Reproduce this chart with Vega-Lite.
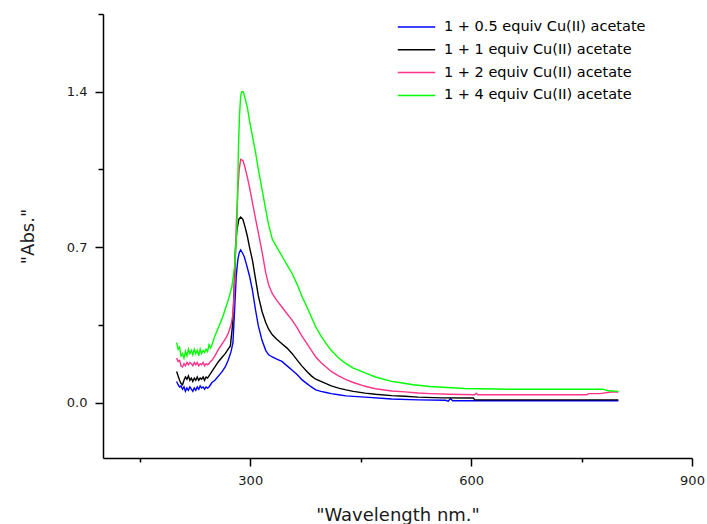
{
  "$schema": "https://vega.github.io/schema/vega-lite/v6.json",
  "autosize": {"type": "none"},
  "padding": {"left": 103, "top": 14, "right": 15, "bottom": 66},
  "width": 589,
  "height": 444,
  "config": {
    "view": {"stroke": null},
    "font": "DejaVu Sans",
    "axis": {
      "grid": false,
      "domainColor": "#000000",
      "domainWidth": 1.5,
      "tickColor": "#000000",
      "tickWidth": 1.5,
      "labelFont": "DejaVu Sans",
      "labelFontSize": 13,
      "labelColor": "#1a1a1a",
      "labelFlush": false,
      "labelOverlap": false,
      "titleFont": "DejaVu Sans",
      "titleFontSize": 18,
      "titleFontWeight": "normal",
      "titleColor": "#1a1a1a"
    }
  },
  "data": {
    "values": [
      {"s": "1 + 0.5 equiv Cu(II) acetate", "x": 200, "y": 0.095},
      {"s": "1 + 0.5 equiv Cu(II) acetate", "x": 202, "y": 0.08},
      {"s": "1 + 0.5 equiv Cu(II) acetate", "x": 204, "y": 0.07},
      {"s": "1 + 0.5 equiv Cu(II) acetate", "x": 206, "y": 0.075},
      {"s": "1 + 0.5 equiv Cu(II) acetate", "x": 208, "y": 0.06},
      {"s": "1 + 0.5 equiv Cu(II) acetate", "x": 210, "y": 0.07},
      {"s": "1 + 0.5 equiv Cu(II) acetate", "x": 212, "y": 0.05},
      {"s": "1 + 0.5 equiv Cu(II) acetate", "x": 214, "y": 0.065},
      {"s": "1 + 0.5 equiv Cu(II) acetate", "x": 216, "y": 0.055},
      {"s": "1 + 0.5 equiv Cu(II) acetate", "x": 218, "y": 0.07},
      {"s": "1 + 0.5 equiv Cu(II) acetate", "x": 220, "y": 0.06},
      {"s": "1 + 0.5 equiv Cu(II) acetate", "x": 222, "y": 0.05},
      {"s": "1 + 0.5 equiv Cu(II) acetate", "x": 224, "y": 0.065},
      {"s": "1 + 0.5 equiv Cu(II) acetate", "x": 226, "y": 0.055},
      {"s": "1 + 0.5 equiv Cu(II) acetate", "x": 228, "y": 0.07},
      {"s": "1 + 0.5 equiv Cu(II) acetate", "x": 230, "y": 0.06},
      {"s": "1 + 0.5 equiv Cu(II) acetate", "x": 232, "y": 0.075},
      {"s": "1 + 0.5 equiv Cu(II) acetate", "x": 234, "y": 0.065},
      {"s": "1 + 0.5 equiv Cu(II) acetate", "x": 236, "y": 0.07},
      {"s": "1 + 0.5 equiv Cu(II) acetate", "x": 238, "y": 0.06},
      {"s": "1 + 0.5 equiv Cu(II) acetate", "x": 240, "y": 0.07},
      {"s": "1 + 0.5 equiv Cu(II) acetate", "x": 242, "y": 0.065},
      {"s": "1 + 0.5 equiv Cu(II) acetate", "x": 244, "y": 0.07},
      {"s": "1 + 0.5 equiv Cu(II) acetate", "x": 246, "y": 0.08},
      {"s": "1 + 0.5 equiv Cu(II) acetate", "x": 248, "y": 0.09},
      {"s": "1 + 0.5 equiv Cu(II) acetate", "x": 252, "y": 0.10},
      {"s": "1 + 0.5 equiv Cu(II) acetate", "x": 257, "y": 0.12},
      {"s": "1 + 0.5 equiv Cu(II) acetate", "x": 262, "y": 0.14},
      {"s": "1 + 0.5 equiv Cu(II) acetate", "x": 266, "y": 0.16},
      {"s": "1 + 0.5 equiv Cu(II) acetate", "x": 270, "y": 0.19},
      {"s": "1 + 0.5 equiv Cu(II) acetate", "x": 274, "y": 0.23},
      {"s": "1 + 0.5 equiv Cu(II) acetate", "x": 276.5, "y": 0.27},
      {"s": "1 + 0.5 equiv Cu(II) acetate", "x": 278.5, "y": 0.40},
      {"s": "1 + 0.5 equiv Cu(II) acetate", "x": 281, "y": 0.57},
      {"s": "1 + 0.5 equiv Cu(II) acetate", "x": 283, "y": 0.64},
      {"s": "1 + 0.5 equiv Cu(II) acetate", "x": 285, "y": 0.675},
      {"s": "1 + 0.5 equiv Cu(II) acetate", "x": 287, "y": 0.687},
      {"s": "1 + 0.5 equiv Cu(II) acetate", "x": 290, "y": 0.67},
      {"s": "1 + 0.5 equiv Cu(II) acetate", "x": 292, "y": 0.655},
      {"s": "1 + 0.5 equiv Cu(II) acetate", "x": 295, "y": 0.62},
      {"s": "1 + 0.5 equiv Cu(II) acetate", "x": 299, "y": 0.57},
      {"s": "1 + 0.5 equiv Cu(II) acetate", "x": 303, "y": 0.505},
      {"s": "1 + 0.5 equiv Cu(II) acetate", "x": 307, "y": 0.42},
      {"s": "1 + 0.5 equiv Cu(II) acetate", "x": 311, "y": 0.345},
      {"s": "1 + 0.5 equiv Cu(II) acetate", "x": 316, "y": 0.28},
      {"s": "1 + 0.5 equiv Cu(II) acetate", "x": 321, "y": 0.235},
      {"s": "1 + 0.5 equiv Cu(II) acetate", "x": 325, "y": 0.215},
      {"s": "1 + 0.5 equiv Cu(II) acetate", "x": 330, "y": 0.205},
      {"s": "1 + 0.5 equiv Cu(II) acetate", "x": 336, "y": 0.195},
      {"s": "1 + 0.5 equiv Cu(II) acetate", "x": 343, "y": 0.185},
      {"s": "1 + 0.5 equiv Cu(II) acetate", "x": 350, "y": 0.165},
      {"s": "1 + 0.5 equiv Cu(II) acetate", "x": 357, "y": 0.145},
      {"s": "1 + 0.5 equiv Cu(II) acetate", "x": 364, "y": 0.125},
      {"s": "1 + 0.5 equiv Cu(II) acetate", "x": 370, "y": 0.103},
      {"s": "1 + 0.5 equiv Cu(II) acetate", "x": 377, "y": 0.085},
      {"s": "1 + 0.5 equiv Cu(II) acetate", "x": 383, "y": 0.07},
      {"s": "1 + 0.5 equiv Cu(II) acetate", "x": 389, "y": 0.057},
      {"s": "1 + 0.5 equiv Cu(II) acetate", "x": 396, "y": 0.05},
      {"s": "1 + 0.5 equiv Cu(II) acetate", "x": 403, "y": 0.045},
      {"s": "1 + 0.5 equiv Cu(II) acetate", "x": 410, "y": 0.04},
      {"s": "1 + 0.5 equiv Cu(II) acetate", "x": 420, "y": 0.035},
      {"s": "1 + 0.5 equiv Cu(II) acetate", "x": 430, "y": 0.03},
      {"s": "1 + 0.5 equiv Cu(II) acetate", "x": 456, "y": 0.024},
      {"s": "1 + 0.5 equiv Cu(II) acetate", "x": 492, "y": 0.016},
      {"s": "1 + 0.5 equiv Cu(II) acetate", "x": 528, "y": 0.012},
      {"s": "1 + 0.5 equiv Cu(II) acetate", "x": 565, "y": 0.01},
      {"s": "1 + 0.5 equiv Cu(II) acetate", "x": 569, "y": 0.006},
      {"s": "1 + 0.5 equiv Cu(II) acetate", "x": 572, "y": 0.018},
      {"s": "1 + 0.5 equiv Cu(II) acetate", "x": 575, "y": 0.008},
      {"s": "1 + 0.5 equiv Cu(II) acetate", "x": 650, "y": 0.008},
      {"s": "1 + 0.5 equiv Cu(II) acetate", "x": 700, "y": 0.008},
      {"s": "1 + 0.5 equiv Cu(II) acetate", "x": 800, "y": 0.008},

      {"s": "1 + 1 equiv Cu(II) acetate", "x": 200, "y": 0.14},
      {"s": "1 + 1 equiv Cu(II) acetate", "x": 202, "y": 0.12},
      {"s": "1 + 1 equiv Cu(II) acetate", "x": 204, "y": 0.10},
      {"s": "1 + 1 equiv Cu(II) acetate", "x": 206, "y": 0.085},
      {"s": "1 + 1 equiv Cu(II) acetate", "x": 208, "y": 0.08},
      {"s": "1 + 1 equiv Cu(II) acetate", "x": 210, "y": 0.10},
      {"s": "1 + 1 equiv Cu(II) acetate", "x": 212, "y": 0.115},
      {"s": "1 + 1 equiv Cu(II) acetate", "x": 214, "y": 0.105},
      {"s": "1 + 1 equiv Cu(II) acetate", "x": 216, "y": 0.12},
      {"s": "1 + 1 equiv Cu(II) acetate", "x": 218, "y": 0.10},
      {"s": "1 + 1 equiv Cu(II) acetate", "x": 220, "y": 0.11},
      {"s": "1 + 1 equiv Cu(II) acetate", "x": 222, "y": 0.095},
      {"s": "1 + 1 equiv Cu(II) acetate", "x": 224, "y": 0.11},
      {"s": "1 + 1 equiv Cu(II) acetate", "x": 226, "y": 0.10},
      {"s": "1 + 1 equiv Cu(II) acetate", "x": 228, "y": 0.115},
      {"s": "1 + 1 equiv Cu(II) acetate", "x": 230, "y": 0.10},
      {"s": "1 + 1 equiv Cu(II) acetate", "x": 232, "y": 0.11},
      {"s": "1 + 1 equiv Cu(II) acetate", "x": 234, "y": 0.105},
      {"s": "1 + 1 equiv Cu(II) acetate", "x": 236, "y": 0.115},
      {"s": "1 + 1 equiv Cu(II) acetate", "x": 238, "y": 0.10},
      {"s": "1 + 1 equiv Cu(II) acetate", "x": 240, "y": 0.115},
      {"s": "1 + 1 equiv Cu(II) acetate", "x": 242, "y": 0.11},
      {"s": "1 + 1 equiv Cu(II) acetate", "x": 244, "y": 0.12},
      {"s": "1 + 1 equiv Cu(II) acetate", "x": 246, "y": 0.13},
      {"s": "1 + 1 equiv Cu(II) acetate", "x": 248, "y": 0.14},
      {"s": "1 + 1 equiv Cu(II) acetate", "x": 252, "y": 0.16},
      {"s": "1 + 1 equiv Cu(II) acetate", "x": 257, "y": 0.185},
      {"s": "1 + 1 equiv Cu(II) acetate", "x": 262, "y": 0.205},
      {"s": "1 + 1 equiv Cu(II) acetate", "x": 266, "y": 0.22},
      {"s": "1 + 1 equiv Cu(II) acetate", "x": 270, "y": 0.24},
      {"s": "1 + 1 equiv Cu(II) acetate", "x": 273, "y": 0.255},
      {"s": "1 + 1 equiv Cu(II) acetate", "x": 276, "y": 0.35},
      {"s": "1 + 1 equiv Cu(II) acetate", "x": 278, "y": 0.50},
      {"s": "1 + 1 equiv Cu(II) acetate", "x": 280, "y": 0.70},
      {"s": "1 + 1 equiv Cu(II) acetate", "x": 282, "y": 0.78},
      {"s": "1 + 1 equiv Cu(II) acetate", "x": 284.5, "y": 0.825},
      {"s": "1 + 1 equiv Cu(II) acetate", "x": 287, "y": 0.835},
      {"s": "1 + 1 equiv Cu(II) acetate", "x": 290, "y": 0.825},
      {"s": "1 + 1 equiv Cu(II) acetate", "x": 293, "y": 0.79},
      {"s": "1 + 1 equiv Cu(II) acetate", "x": 296, "y": 0.75},
      {"s": "1 + 1 equiv Cu(II) acetate", "x": 299, "y": 0.70},
      {"s": "1 + 1 equiv Cu(II) acetate", "x": 303, "y": 0.64},
      {"s": "1 + 1 equiv Cu(II) acetate", "x": 307, "y": 0.56},
      {"s": "1 + 1 equiv Cu(II) acetate", "x": 311, "y": 0.48},
      {"s": "1 + 1 equiv Cu(II) acetate", "x": 316, "y": 0.41},
      {"s": "1 + 1 equiv Cu(II) acetate", "x": 321, "y": 0.36},
      {"s": "1 + 1 equiv Cu(II) acetate", "x": 325, "y": 0.33},
      {"s": "1 + 1 equiv Cu(II) acetate", "x": 330, "y": 0.305},
      {"s": "1 + 1 equiv Cu(II) acetate", "x": 336, "y": 0.285},
      {"s": "1 + 1 equiv Cu(II) acetate", "x": 343, "y": 0.265},
      {"s": "1 + 1 equiv Cu(II) acetate", "x": 350, "y": 0.245},
      {"s": "1 + 1 equiv Cu(II) acetate", "x": 357, "y": 0.22},
      {"s": "1 + 1 equiv Cu(II) acetate", "x": 364, "y": 0.19},
      {"s": "1 + 1 equiv Cu(II) acetate", "x": 370, "y": 0.165},
      {"s": "1 + 1 equiv Cu(II) acetate", "x": 377, "y": 0.14},
      {"s": "1 + 1 equiv Cu(II) acetate", "x": 383, "y": 0.12},
      {"s": "1 + 1 equiv Cu(II) acetate", "x": 389, "y": 0.105},
      {"s": "1 + 1 equiv Cu(II) acetate", "x": 396, "y": 0.095},
      {"s": "1 + 1 equiv Cu(II) acetate", "x": 403, "y": 0.085},
      {"s": "1 + 1 equiv Cu(II) acetate", "x": 410, "y": 0.075},
      {"s": "1 + 1 equiv Cu(II) acetate", "x": 420, "y": 0.065},
      {"s": "1 + 1 equiv Cu(II) acetate", "x": 430, "y": 0.057},
      {"s": "1 + 1 equiv Cu(II) acetate", "x": 440, "y": 0.05},
      {"s": "1 + 1 equiv Cu(II) acetate", "x": 456, "y": 0.042},
      {"s": "1 + 1 equiv Cu(II) acetate", "x": 470, "y": 0.037},
      {"s": "1 + 1 equiv Cu(II) acetate", "x": 492, "y": 0.031},
      {"s": "1 + 1 equiv Cu(II) acetate", "x": 510, "y": 0.028},
      {"s": "1 + 1 equiv Cu(II) acetate", "x": 528, "y": 0.024},
      {"s": "1 + 1 equiv Cu(II) acetate", "x": 560, "y": 0.021},
      {"s": "1 + 1 equiv Cu(II) acetate", "x": 603, "y": 0.02},
      {"s": "1 + 1 equiv Cu(II) acetate", "x": 605, "y": 0.012},
      {"s": "1 + 1 equiv Cu(II) acetate", "x": 650, "y": 0.012},
      {"s": "1 + 1 equiv Cu(II) acetate", "x": 700, "y": 0.012},
      {"s": "1 + 1 equiv Cu(II) acetate", "x": 800, "y": 0.012},

      {"s": "1 + 2 equiv Cu(II) acetate", "x": 200, "y": 0.20},
      {"s": "1 + 2 equiv Cu(II) acetate", "x": 202, "y": 0.185},
      {"s": "1 + 2 equiv Cu(II) acetate", "x": 204, "y": 0.19},
      {"s": "1 + 2 equiv Cu(II) acetate", "x": 206, "y": 0.165},
      {"s": "1 + 2 equiv Cu(II) acetate", "x": 208, "y": 0.16},
      {"s": "1 + 2 equiv Cu(II) acetate", "x": 210, "y": 0.175},
      {"s": "1 + 2 equiv Cu(II) acetate", "x": 212, "y": 0.165},
      {"s": "1 + 2 equiv Cu(II) acetate", "x": 214, "y": 0.18},
      {"s": "1 + 2 equiv Cu(II) acetate", "x": 216, "y": 0.17},
      {"s": "1 + 2 equiv Cu(II) acetate", "x": 218, "y": 0.18},
      {"s": "1 + 2 equiv Cu(II) acetate", "x": 220, "y": 0.175},
      {"s": "1 + 2 equiv Cu(II) acetate", "x": 222, "y": 0.165},
      {"s": "1 + 2 equiv Cu(II) acetate", "x": 224, "y": 0.18},
      {"s": "1 + 2 equiv Cu(II) acetate", "x": 226, "y": 0.17},
      {"s": "1 + 2 equiv Cu(II) acetate", "x": 228, "y": 0.18},
      {"s": "1 + 2 equiv Cu(II) acetate", "x": 230, "y": 0.165},
      {"s": "1 + 2 equiv Cu(II) acetate", "x": 232, "y": 0.175},
      {"s": "1 + 2 equiv Cu(II) acetate", "x": 234, "y": 0.17},
      {"s": "1 + 2 equiv Cu(II) acetate", "x": 236, "y": 0.18},
      {"s": "1 + 2 equiv Cu(II) acetate", "x": 238, "y": 0.165},
      {"s": "1 + 2 equiv Cu(II) acetate", "x": 240, "y": 0.175},
      {"s": "1 + 2 equiv Cu(II) acetate", "x": 242, "y": 0.17},
      {"s": "1 + 2 equiv Cu(II) acetate", "x": 244, "y": 0.175},
      {"s": "1 + 2 equiv Cu(II) acetate", "x": 246, "y": 0.185},
      {"s": "1 + 2 equiv Cu(II) acetate", "x": 248, "y": 0.19},
      {"s": "1 + 2 equiv Cu(II) acetate", "x": 252, "y": 0.21},
      {"s": "1 + 2 equiv Cu(II) acetate", "x": 257, "y": 0.24},
      {"s": "1 + 2 equiv Cu(II) acetate", "x": 262, "y": 0.265},
      {"s": "1 + 2 equiv Cu(II) acetate", "x": 266, "y": 0.285},
      {"s": "1 + 2 equiv Cu(II) acetate", "x": 270, "y": 0.31},
      {"s": "1 + 2 equiv Cu(II) acetate", "x": 274, "y": 0.35},
      {"s": "1 + 2 equiv Cu(II) acetate", "x": 277, "y": 0.41},
      {"s": "1 + 2 equiv Cu(II) acetate", "x": 279, "y": 0.55},
      {"s": "1 + 2 equiv Cu(II) acetate", "x": 281, "y": 0.80},
      {"s": "1 + 2 equiv Cu(II) acetate", "x": 283, "y": 0.95},
      {"s": "1 + 2 equiv Cu(II) acetate", "x": 285, "y": 1.05},
      {"s": "1 + 2 equiv Cu(II) acetate", "x": 287, "y": 1.095},
      {"s": "1 + 2 equiv Cu(II) acetate", "x": 290, "y": 1.09},
      {"s": "1 + 2 equiv Cu(II) acetate", "x": 292, "y": 1.07},
      {"s": "1 + 2 equiv Cu(II) acetate", "x": 295, "y": 1.03},
      {"s": "1 + 2 equiv Cu(II) acetate", "x": 299, "y": 0.97},
      {"s": "1 + 2 equiv Cu(II) acetate", "x": 303, "y": 0.90},
      {"s": "1 + 2 equiv Cu(II) acetate", "x": 307, "y": 0.83},
      {"s": "1 + 2 equiv Cu(II) acetate", "x": 311, "y": 0.765},
      {"s": "1 + 2 equiv Cu(II) acetate", "x": 316, "y": 0.68},
      {"s": "1 + 2 equiv Cu(II) acetate", "x": 321, "y": 0.585},
      {"s": "1 + 2 equiv Cu(II) acetate", "x": 325, "y": 0.53},
      {"s": "1 + 2 equiv Cu(II) acetate", "x": 330, "y": 0.49},
      {"s": "1 + 2 equiv Cu(II) acetate", "x": 336, "y": 0.46},
      {"s": "1 + 2 equiv Cu(II) acetate", "x": 343, "y": 0.43},
      {"s": "1 + 2 equiv Cu(II) acetate", "x": 350, "y": 0.40},
      {"s": "1 + 2 equiv Cu(II) acetate", "x": 357, "y": 0.37},
      {"s": "1 + 2 equiv Cu(II) acetate", "x": 364, "y": 0.335},
      {"s": "1 + 2 equiv Cu(II) acetate", "x": 370, "y": 0.30},
      {"s": "1 + 2 equiv Cu(II) acetate", "x": 377, "y": 0.265},
      {"s": "1 + 2 equiv Cu(II) acetate", "x": 383, "y": 0.235},
      {"s": "1 + 2 equiv Cu(II) acetate", "x": 389, "y": 0.205},
      {"s": "1 + 2 equiv Cu(II) acetate", "x": 396, "y": 0.18},
      {"s": "1 + 2 equiv Cu(II) acetate", "x": 403, "y": 0.16},
      {"s": "1 + 2 equiv Cu(II) acetate", "x": 410, "y": 0.14},
      {"s": "1 + 2 equiv Cu(II) acetate", "x": 420, "y": 0.12},
      {"s": "1 + 2 equiv Cu(II) acetate", "x": 430, "y": 0.103},
      {"s": "1 + 2 equiv Cu(II) acetate", "x": 440, "y": 0.09},
      {"s": "1 + 2 equiv Cu(II) acetate", "x": 456, "y": 0.073},
      {"s": "1 + 2 equiv Cu(II) acetate", "x": 470, "y": 0.062},
      {"s": "1 + 2 equiv Cu(II) acetate", "x": 492, "y": 0.052},
      {"s": "1 + 2 equiv Cu(II) acetate", "x": 510, "y": 0.048},
      {"s": "1 + 2 equiv Cu(II) acetate", "x": 528, "y": 0.043},
      {"s": "1 + 2 equiv Cu(II) acetate", "x": 545, "y": 0.04},
      {"s": "1 + 2 equiv Cu(II) acetate", "x": 570, "y": 0.037},
      {"s": "1 + 2 equiv Cu(II) acetate", "x": 605, "y": 0.035},
      {"s": "1 + 2 equiv Cu(II) acetate", "x": 607, "y": 0.042},
      {"s": "1 + 2 equiv Cu(II) acetate", "x": 609, "y": 0.035},
      {"s": "1 + 2 equiv Cu(II) acetate", "x": 650, "y": 0.035},
      {"s": "1 + 2 equiv Cu(II) acetate", "x": 700, "y": 0.035},
      {"s": "1 + 2 equiv Cu(II) acetate", "x": 757, "y": 0.035},
      {"s": "1 + 2 equiv Cu(II) acetate", "x": 760, "y": 0.04},
      {"s": "1 + 2 equiv Cu(II) acetate", "x": 775, "y": 0.04},
      {"s": "1 + 2 equiv Cu(II) acetate", "x": 790, "y": 0.047},
      {"s": "1 + 2 equiv Cu(II) acetate", "x": 800, "y": 0.047},

      {"s": "1 + 4 equiv Cu(II) acetate", "x": 200, "y": 0.27},
      {"s": "1 + 4 equiv Cu(II) acetate", "x": 202, "y": 0.24},
      {"s": "1 + 4 equiv Cu(II) acetate", "x": 204, "y": 0.25},
      {"s": "1 + 4 equiv Cu(II) acetate", "x": 206, "y": 0.21},
      {"s": "1 + 4 equiv Cu(II) acetate", "x": 208, "y": 0.22},
      {"s": "1 + 4 equiv Cu(II) acetate", "x": 210, "y": 0.20},
      {"s": "1 + 4 equiv Cu(II) acetate", "x": 212, "y": 0.23},
      {"s": "1 + 4 equiv Cu(II) acetate", "x": 214, "y": 0.21},
      {"s": "1 + 4 equiv Cu(II) acetate", "x": 216, "y": 0.24},
      {"s": "1 + 4 equiv Cu(II) acetate", "x": 218, "y": 0.22},
      {"s": "1 + 4 equiv Cu(II) acetate", "x": 220, "y": 0.235},
      {"s": "1 + 4 equiv Cu(II) acetate", "x": 222, "y": 0.215},
      {"s": "1 + 4 equiv Cu(II) acetate", "x": 224, "y": 0.24},
      {"s": "1 + 4 equiv Cu(II) acetate", "x": 226, "y": 0.22},
      {"s": "1 + 4 equiv Cu(II) acetate", "x": 228, "y": 0.235},
      {"s": "1 + 4 equiv Cu(II) acetate", "x": 230, "y": 0.21},
      {"s": "1 + 4 equiv Cu(II) acetate", "x": 232, "y": 0.24},
      {"s": "1 + 4 equiv Cu(II) acetate", "x": 234, "y": 0.22},
      {"s": "1 + 4 equiv Cu(II) acetate", "x": 236, "y": 0.235},
      {"s": "1 + 4 equiv Cu(II) acetate", "x": 238, "y": 0.225},
      {"s": "1 + 4 equiv Cu(II) acetate", "x": 240, "y": 0.24},
      {"s": "1 + 4 equiv Cu(II) acetate", "x": 242, "y": 0.23},
      {"s": "1 + 4 equiv Cu(II) acetate", "x": 244, "y": 0.26},
      {"s": "1 + 4 equiv Cu(II) acetate", "x": 246, "y": 0.245},
      {"s": "1 + 4 equiv Cu(II) acetate", "x": 248, "y": 0.26},
      {"s": "1 + 4 equiv Cu(II) acetate", "x": 252, "y": 0.30},
      {"s": "1 + 4 equiv Cu(II) acetate", "x": 257, "y": 0.34},
      {"s": "1 + 4 equiv Cu(II) acetate", "x": 262, "y": 0.38},
      {"s": "1 + 4 equiv Cu(II) acetate", "x": 266, "y": 0.42},
      {"s": "1 + 4 equiv Cu(II) acetate", "x": 270, "y": 0.46},
      {"s": "1 + 4 equiv Cu(II) acetate", "x": 275, "y": 0.52},
      {"s": "1 + 4 equiv Cu(II) acetate", "x": 279, "y": 0.62},
      {"s": "1 + 4 equiv Cu(II) acetate", "x": 282, "y": 0.80},
      {"s": "1 + 4 equiv Cu(II) acetate", "x": 284, "y": 1.15},
      {"s": "1 + 4 equiv Cu(II) acetate", "x": 285.5, "y": 1.30},
      {"s": "1 + 4 equiv Cu(II) acetate", "x": 287, "y": 1.38},
      {"s": "1 + 4 equiv Cu(II) acetate", "x": 288.5, "y": 1.40},
      {"s": "1 + 4 equiv Cu(II) acetate", "x": 290.5, "y": 1.40},
      {"s": "1 + 4 equiv Cu(II) acetate", "x": 293, "y": 1.37},
      {"s": "1 + 4 equiv Cu(II) acetate", "x": 296, "y": 1.33},
      {"s": "1 + 4 equiv Cu(II) acetate", "x": 299, "y": 1.27},
      {"s": "1 + 4 equiv Cu(II) acetate", "x": 303, "y": 1.20},
      {"s": "1 + 4 equiv Cu(II) acetate", "x": 307, "y": 1.13},
      {"s": "1 + 4 equiv Cu(II) acetate", "x": 311, "y": 1.05},
      {"s": "1 + 4 equiv Cu(II) acetate", "x": 316, "y": 0.96},
      {"s": "1 + 4 equiv Cu(II) acetate", "x": 321, "y": 0.87},
      {"s": "1 + 4 equiv Cu(II) acetate", "x": 325, "y": 0.80},
      {"s": "1 + 4 equiv Cu(II) acetate", "x": 330, "y": 0.735},
      {"s": "1 + 4 equiv Cu(II) acetate", "x": 336, "y": 0.70},
      {"s": "1 + 4 equiv Cu(II) acetate", "x": 343, "y": 0.66},
      {"s": "1 + 4 equiv Cu(II) acetate", "x": 350, "y": 0.62},
      {"s": "1 + 4 equiv Cu(II) acetate", "x": 357, "y": 0.58},
      {"s": "1 + 4 equiv Cu(II) acetate", "x": 364, "y": 0.53},
      {"s": "1 + 4 equiv Cu(II) acetate", "x": 370, "y": 0.48},
      {"s": "1 + 4 equiv Cu(II) acetate", "x": 377, "y": 0.43},
      {"s": "1 + 4 equiv Cu(II) acetate", "x": 383, "y": 0.385},
      {"s": "1 + 4 equiv Cu(II) acetate", "x": 389, "y": 0.34},
      {"s": "1 + 4 equiv Cu(II) acetate", "x": 396, "y": 0.30},
      {"s": "1 + 4 equiv Cu(II) acetate", "x": 403, "y": 0.265},
      {"s": "1 + 4 equiv Cu(II) acetate", "x": 410, "y": 0.235},
      {"s": "1 + 4 equiv Cu(II) acetate", "x": 420, "y": 0.20},
      {"s": "1 + 4 equiv Cu(II) acetate", "x": 430, "y": 0.175},
      {"s": "1 + 4 equiv Cu(II) acetate", "x": 440, "y": 0.155},
      {"s": "1 + 4 equiv Cu(II) acetate", "x": 456, "y": 0.133},
      {"s": "1 + 4 equiv Cu(II) acetate", "x": 470, "y": 0.115},
      {"s": "1 + 4 equiv Cu(II) acetate", "x": 492, "y": 0.095},
      {"s": "1 + 4 equiv Cu(II) acetate", "x": 503, "y": 0.09},
      {"s": "1 + 4 equiv Cu(II) acetate", "x": 521, "y": 0.08},
      {"s": "1 + 4 equiv Cu(II) acetate", "x": 544, "y": 0.072},
      {"s": "1 + 4 equiv Cu(II) acetate", "x": 591, "y": 0.063},
      {"s": "1 + 4 equiv Cu(II) acetate", "x": 650, "y": 0.06},
      {"s": "1 + 4 equiv Cu(II) acetate", "x": 700, "y": 0.06},
      {"s": "1 + 4 equiv Cu(II) acetate", "x": 779, "y": 0.06},
      {"s": "1 + 4 equiv Cu(II) acetate", "x": 786, "y": 0.053},
      {"s": "1 + 4 equiv Cu(II) acetate", "x": 800, "y": 0.05}
    ]
  },
  "mark": {"type": "line", "strokeWidth": 1.4, "clip": true},
  "encoding": {
    "x": {
      "field": "x",
      "type": "quantitative",
      "scale": {"domain": [100, 900], "nice": false, "zero": false},
      "axis": {
        "title": "\"Wavelength nm.\"",
        "values": [150, 300, 450, 600, 750, 900],
        "labelExpr": "datum.value % 300 === 0 ? format(datum.value, 'd') : ''",
        "tickSize": {"condition": {"test": "datum.value % 300 === 0", "value": 8}, "value": 4},
        "labelPadding": 8,
        "titlePadding": 19
      }
    },
    "y": {
      "field": "y",
      "type": "quantitative",
      "scale": {"domain": [-0.25, 1.75], "nice": false, "zero": false},
      "axis": {
        "title": "\"Abs.\"",
        "values": [0, 0.35, 0.7, 1.05, 1.4, 1.75],
        "labelExpr": "abs(datum.value / 0.7 - round(datum.value / 0.7)) < 0.01 ? format(datum.value, '.1f') : ''",
        "tickSize": {"condition": {"test": "abs(datum.value / 0.7 - round(datum.value / 0.7)) < 0.01", "value": 8}, "value": 5},
        "labelPadding": 8,
        "titlePadding": 29
      }
    },
    "color": {
      "field": "s",
      "type": "nominal",
      "scale": {
        "domain": ["1 + 0.5 equiv Cu(II) acetate", "1 + 1 equiv Cu(II) acetate", "1 + 2 equiv Cu(II) acetate", "1 + 4 equiv Cu(II) acetate"],
        "range": ["#0000FF", "#000000", "#FF3388", "#00FF00"]
      },
      "legend": {
        "title": null,
        "orient": "none",
        "legendX": 294,
        "legendY": 4.5,
        "padding": 0,
        "symbolType": "stroke",
        "symbolSize": 1400,
        "symbolStrokeWidth": 1.5,
        "clipHeight": 17,
        "labelFont": "DejaVu Sans",
        "labelFontSize": 14.5,
        "labelColor": "#000000",
        "labelOffset": 8,
        "rowPadding": 5.8,
        "labelLimit": 300
      }
    }
  }
}
